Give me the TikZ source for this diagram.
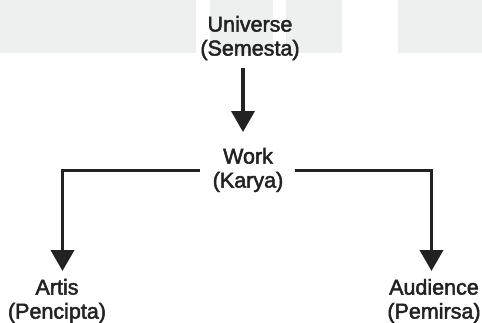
\documentclass[tikz,border=0pt]{standalone}
\usepackage{fontspec}
\setmainfont{Liberation Sans}
\newfontfamily\lblfont{Liberation Sans}[FakeBold=2.2]
\usetikzlibrary{arrows.meta}
\definecolor{band}{HTML}{EDF0EF}
\definecolor{ink}{HTML}{222222}
\begin{document}
\begin{tikzpicture}[x=1pt,y=-1pt,
  lbl/.style={align=center,font=\lblfont\fontsize{21.5}{24}\selectfont,text=ink,inner sep=0pt},
  conn/.style={draw=ink,line width=3.8pt},
  arr/.style={conn,-{Triangle[width=23pt,length=21pt]}}]
\useasboundingbox (0,0) rectangle (482,322);
\fill[white] (0,0) rectangle (482,322);
\fill[band] (0,0) rectangle (196,53);
\fill[band] (210,0) rectangle (273,53);
\fill[band] (286,0) rectangle (342,53);
\fill[band] (398,0) rectangle (482,53);
\node[lbl] (uni) at (250,38) {Universe\\(Semesta)};
\node[lbl] (work) at (248,170) {Work\\(Karya)};
\node[lbl] (artis) at (57,301) {Artis\\(Pencipta)};
\node[lbl] (aud) at (434,301) {Audience\\(Pemirsa)};
\coordinate (lc) at (62.5,170.5);
\coordinate (rc) at (431.5,170.5);
\draw[arr] (243,68) -- (243,132);
\draw[arr] ([xshift=-48pt]work.center |- lc) -- (lc) -- (62.5,271);
\draw[arr] ([xshift=47pt]work.center |- rc) -- (rc) -- (431.5,271);
\end{tikzpicture}
\end{document}
